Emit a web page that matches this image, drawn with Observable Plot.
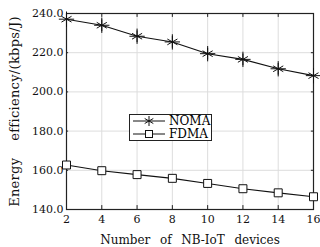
<!DOCTYPE html>
<html><head><meta charset="utf-8">
<script src="https://cdn.jsdelivr.net/npm/d3@7"></script>
<script src="https://cdn.jsdelivr.net/npm/@observablehq/plot@0.6"></script>
<style>
body{margin:0;background:#fff;}
#wrap{position:relative;width:320px;height:247px;}
svg text, #legend{font-family:"DejaVu Serif",serif !important;}
#legend{position:absolute;left:129px;top:114px;width:81px;height:25px;border:1.2px solid #222;background:#fff;font-size:12px;line-height:12.5px;}
#legend .row{display:flex;align-items:center;height:12.5px;}
#legend svg{margin-left:2px;margin-right:3px;}
</style></head>
<body><div id="wrap"></div>
<script>
const devices = [2,4,6,8,10,12,14,16];
const noma = [237.1,234.0,228.4,225.5,219.5,216.6,211.8,208.3];
const fdma = [162.7,159.8,157.8,155.9,153.3,150.6,148.5,146.5];
const xTicks = [2,4,6,8,10,12,14,16];
const yTicks = [140,160,180,200,220,240];
const series = [{name:"NOMA", values:noma},{name:"FDMA", values:fdma}];

const nomaData = devices.map((d,i)=>({x:d,y:noma[i]}));
const fdmaData = devices.map((d,i)=>({x:d,y:fdma[i]}));

const chart = Plot.plot({
  width:320, height:247,
  marginLeft:66, marginRight:7, marginTop:13, marginBottom:38,
  style:{fontSize:"11px", color:"#111", background:"#fff"},
  x:{domain:[2,16]},
  y:{domain:[140,240]},
  marks:[
    Plot.gridX(xTicks,{stroke:"#ddd", strokeOpacity:1}),
    Plot.gridY(yTicks,{stroke:"#ddd", strokeOpacity:1}),
    Plot.axisX(xTicks,{tickSize:0, tickPadding:6, fontSize:11, label:"Number  of  NB-IoT  devices", labelAnchor:"center", labelOffset:34, labelArrow:"none"}),
    Plot.axisY(yTicks,{tickSize:0, tickPadding:3, fontSize:11, tickFormat:d3.format(".1f"), label:"Energy  efficiency/(kbps/J)", labelAnchor:"center", labelOffset:57, labelArrow:"none"}),
    Plot.ruleX(xTicks,{y1:140, y2:142, stroke:"#222"}),
    Plot.ruleX(xTicks,{y1:240, y2:238, stroke:"#222"}),
    Plot.ruleY(yTicks,{x1:2, x2:2.12, stroke:"#222"}),
    Plot.ruleY(yTicks,{x1:16, x2:15.88, stroke:"#222"}),
    Plot.frame({stroke:"#222", strokeWidth:1.2}),
    Plot.line(nomaData,{x:"x", y:"y", stroke:"#111", strokeWidth:1.1}),
    Plot.line(fdmaData,{x:"x", y:"y", stroke:"#111", strokeWidth:1.1}),
    Plot.dot(nomaData,{x:"x", y:"y", symbol:"asterisk", r:5.5, stroke:"#111", strokeWidth:1}),
    Plot.dot(nomaData,{x:"x", y:"y", symbol:"plus", r:5, stroke:"#111", strokeWidth:1}),
    Plot.dot(fdmaData,{x:"x", y:"y", symbol:"square", r:4.5, fill:"#fff", stroke:"#111", strokeWidth:1})
  ]
});
const wrap = document.getElementById("wrap");
wrap.appendChild(chart);
chart.querySelectorAll("g[aria-label='x-axis label'] text").forEach(t=>{t.setAttribute("font-size","12px");t.style.wordSpacing="1px";});
chart.querySelectorAll("g[aria-label='y-axis label'] text").forEach(t=>{t.setAttribute("font-size","13px");t.style.wordSpacing="4px";t.style.letterSpacing="0.3px";});

const leg = document.createElement("div");
leg.id = "legend";
leg.innerHTML = series.map(s=>`<div class="row"><svg width="34" height="12"><line x1="1" x2="33" y1="6" y2="6" stroke="#111"/>${s.name==="NOMA"
  ? '<path d="M17,1V11M12.7,3.5L21.3,8.5M12.7,8.5L21.3,3.5" stroke="#111"/>'
  : '<rect x="13.5" y="2.5" width="7" height="7" fill="#fff" stroke="#111"/>'}</svg><span>${s.name}</span></div>`).join("");
wrap.appendChild(leg);
</script></body></html>
